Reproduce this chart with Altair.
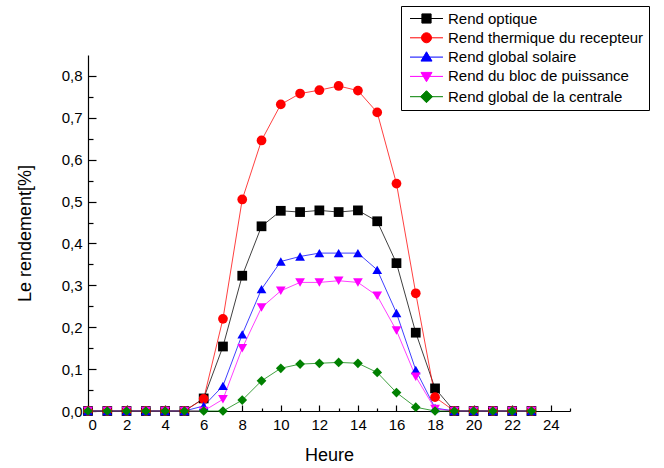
import altair as alt
import pandas as pd

hours = list(range(24))
names = ["Rend optique", "Rend thermique du recepteur", "Rend global solaire",
         "Rend du bloc de puissance", "Rend global de la centrale"]
optique = [0, 0, 0, 0, 0, 0, 0.030, 0.154, 0.323, 0.441, 0.478, 0.475, 0.479, 0.475, 0.479, 0.453, 0.353, 0.187, 0.054, 0, 0, 0, 0, 0]
thermique = [0, 0, 0, 0, 0, 0, 0.029, 0.220, 0.505, 0.646, 0.732, 0.758, 0.766, 0.776, 0.765, 0.713, 0.543, 0.281, 0.033, 0, 0, 0, 0, 0]
solaire = [0, 0, 0, 0, 0, 0, 0.012, 0.060, 0.183, 0.291, 0.357, 0.369, 0.377, 0.377, 0.377, 0.337, 0.234, 0.098, 0.007, 0, 0, 0, 0, 0]
puissance = [0, 0, 0, 0, 0, 0, 0.000, 0.028, 0.150, 0.247, 0.287, 0.307, 0.307, 0.311, 0.307, 0.275, 0.192, 0.082, 0.005, 0, 0, 0, 0, 0]
centrale = [0, 0, 0, 0, 0, 0, 0.000, 0.000, 0.026, 0.072, 0.102, 0.112, 0.114, 0.116, 0.114, 0.092, 0.044, 0.009, 0.000, 0, 0, 0, 0, 0]
series_values = [optique, thermique, solaire, puissance, centrale]

colors = ["#000000", "#FF0000", "#0000FF", "#FF00FF", "#008000"]
shapes = ["square", "circle", "triangle-up", "triangle-down", "diamond"]
legend_paths = [
    "M-0.5,0H4.214M1.2,-0.657H2.514V0.657H1.2Z",
    "M-0.5,0H4.214M1.143,0A0.714,0.714 0 1,0 2.571,0A0.714,0.714 0 1,0 1.143,0Z",
    "M-0.5,0H4.214M1.857,-0.76L2.647,0.57L1.067,0.57Z",
    "M-0.5,0H4.214M1.857,0.76L2.647,-0.57L1.067,-0.57Z",
    "M-0.5,0H4.214M1.857,-0.857L2.714,0L1.857,0.857L1.0,0Z",
]

rows = []
for k, (n, vals) in enumerate(zip(names, series_values)):
    for h, v in zip(hours, vals):
        rows.append({"series": n, "k": k, "Heure": h, "val": v})
df = pd.DataFrame(rows)

W, H = 482, 356
FONT = "Liberation Sans"

xs = alt.Scale(domain=[0, 25], nice=False, zero=False)
ys = alt.Scale(domain=[0, 0.85], nice=False, zero=False)
cscale = alt.Scale(domain=names, range=colors)
sscale = alt.Scale(domain=names, range=shapes)

base = alt.Chart(df)

lines = base.mark_line(strokeWidth=1, opacity=0.75).encode(
    x=alt.X("Heure:Q", scale=xs, axis=alt.Axis(
        orient="bottom", values=list(range(0, 25, 2)), ticks=False, tickSize=0,
        labelPadding=6, labelFontSize=15, labelFont=FONT, labelColor="black",
        domainColor="black", domainWidth=1.2, grid=False,
        title="Heure", titleFontSize=18, titleFont=FONT, titleFontWeight="normal",
        titleColor="black", titleX=241, titleY=44, titleBaseline="middle")),
    y=alt.Y("val:Q", scale=ys, axis=alt.Axis(
        orient="left", values=[i / 10 for i in range(9)], ticks=False, tickSize=0,
        labelExpr="replace(format(datum.value, '.1f'), '.', ',')",
        labelPadding=6, labelFontSize=15, labelFont=FONT, labelColor="black",
        domainColor="black", domainWidth=1.2, grid=False,
        title="Le rendement[%]", titleFontSize=18, titleFont=FONT, titleFontWeight="normal",
        titleColor="black", titleX=-63, titleY=H / 2, titleAngle=-90,
        titleAlign="center", titleBaseline="middle")),
    color=alt.Color("series:N", scale=cscale, legend=None),
    detail="series:N",
)

points = base.mark_point(filled=True, opacity=1).encode(
    x=alt.X("Heure:Q", scale=xs, axis=None),
    y=alt.Y("val:Q", scale=ys, axis=None),
    color=alt.Color("series:N", scale=cscale, legend=None),
    shape=alt.Shape("series:N", scale=sscale, legend=None),
    size=alt.value(95),
    order=alt.Order("k:Q"),
)

leg = alt.Legend(title=None, orient="none", legendX=313, legendY=-49)
legend_layer = base.transform_filter("false").mark_point(filled=True).encode(
    fill=alt.Fill("series:N", scale=alt.Scale(domain=names, range=colors), legend=leg),
    stroke=alt.Stroke("series:N", scale=alt.Scale(domain=names, range=colors), legend=leg),
    shape=alt.Shape("series:N", scale=alt.Scale(domain=names, range=legend_paths), legend=leg),
)

major = base.transform_filter("false").mark_point().encode(
    x=alt.X("Heure:Q", scale=xs, axis=alt.Axis(
        orient="top", offset=-H, values=list(range(0, 25, 2)), tickSize=6,
        tickColor="black", tickWidth=1.2, labels=False, domain=False, grid=False, title=None)),
    y=alt.Y("val:Q", scale=ys, axis=alt.Axis(
        orient="right", offset=-W, values=[i / 10 for i in range(9)], tickSize=8,
        tickColor="black", tickWidth=1.2, labels=False, domain=False, grid=False, title=None)),
)

minor = base.transform_filter("false").mark_point().encode(
    x=alt.X("Heure:Q", scale=xs, axis=alt.Axis(
        orient="top", offset=-H, values=list(range(1, 26, 2)), tickSize=3,
        tickColor="black", tickWidth=1.2, labels=False, domain=False, grid=False, title=None)),
    y=alt.Y("val:Q", scale=ys, axis=alt.Axis(
        orient="right", offset=-W, values=[i / 10 + 0.05 for i in range(9)], tickSize=5,
        tickColor="black", tickWidth=1.2, labels=False, domain=False, grid=False, title=None)),
)

chart = alt.layer(lines, points, legend_layer, major, minor).resolve_axis(
    x="independent", y="independent"
).resolve_scale(
    shape="independent", fill="independent", stroke="independent"
).properties(
    width=W, height=H,
    autosize=alt.AutoSizeParams(type="none"),
    padding={"left": 88, "top": 55, "right": 664 - 88 - W, "bottom": 468 - 55 - H},
    background="white",
).configure_view(stroke=None).configure_legend(
    strokeColor="black", strokeWidth=1, fillColor="white", padding=5,
    labelFont=FONT, labelFontSize=15, labelColor="black", labelOffset=27,
    labelLimit=400,
    symbolSize=196, symbolStrokeWidth=1, rowPadding=3.3, symbolOpacity=1,
    cornerRadius=0,
)

chart.save("out.html", embed_options={"renderer": "svg", "actions": False})
